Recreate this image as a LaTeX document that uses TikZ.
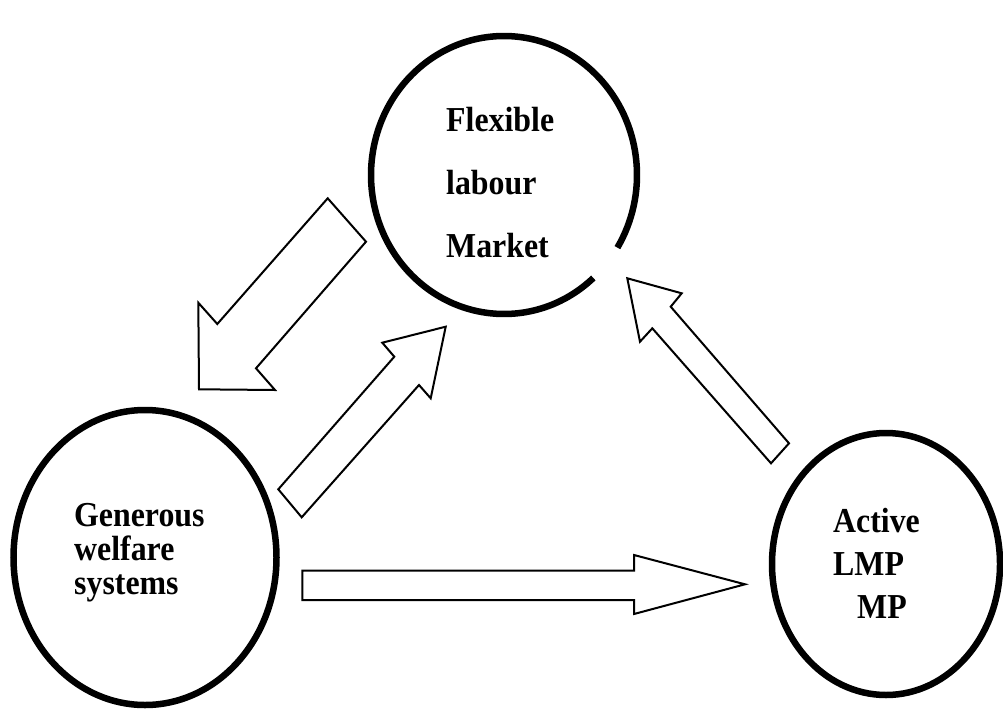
\documentclass[tikz,border=0pt]{standalone}
\usepackage{fontspec}
\setmainfont{Liberation Serif}
\newfontfamily\labfont[FakeStretch=0.91]{Liberation Serif}
\usetikzlibrary{shapes.geometric}
\tikzset{
  ell/.style={ellipse, draw, line width=6.5pt, inner sep=0pt},
  lbl/.style={inner sep=0pt, align=left, anchor=west},
  blockarrow/.style={draw, line width=2pt, line join=miter, fill=white}
}
\begin{document}
\begin{tikzpicture}[x=1pt,y=-1pt]
\useasboundingbox (0,0) rectangle (1003,709);
% circles
\node[ell, draw=none, minimum width=266pt, minimum height=278pt] (flex) at (504,175) {};
\draw[line width=6.5pt] ([shift={(47.8:133 and 139)}]flex.center) arc[start angle=47.8, end angle=391.5, x radius=133, y radius=139];
\node[ell, minimum width=263pt, minimum height=295pt] (gen) at (145,557.5) {};
\node[ell, minimum width=228pt, minimum height=262pt] (act) at (886,564) {};
% labels
\node[lbl, font=\labfont\bfseries\fontsize{35}{63}\selectfont] (flext) at (446,183) {Flexible\\labour\\Market};
\node[lbl, font=\labfont\bfseries\fontsize{35}{34}\selectfont] (gent) at (74,553) {Generous\\welfare\\systems};
\node[lbl, font=\labfont\bfseries\fontsize{35}{43}\selectfont] (actt) at (833,563.5) {Active\\LMP\\\hspace*{24pt}MP};
% block arrows
\draw[blockarrow] (327.7,198.3) -- (366,241.7) -- (256,368.3) -- (275,390) -- (199,389.3) -- (198.3,302.7) -- (217.3,324) -- cycle;
\draw[blockarrow] (278.3,489.3) -- (394.3,356.7) -- (382.3,342.7) -- (445.7,326.7) -- (430.7,398.3) -- (419,385) -- (301.7,517.3) -- cycle;
\draw[blockarrow] (302.3,570.7) -- (634,570.7) -- (634,555) -- (745,584.3) -- (634,614) -- (634,600) -- (302.3,600) -- cycle;
\draw[blockarrow] (789,443.3) -- (670.7,306.7) -- (681.7,293.3) -- (627.3,278.3) -- (640,341.7) -- (652.3,328.3) -- (771,463.3) -- cycle;
\end{tikzpicture}
\end{document}
